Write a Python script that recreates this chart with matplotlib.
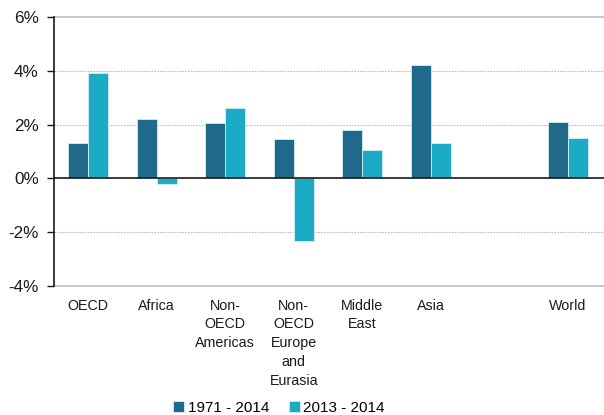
import matplotlib
matplotlib.use("Agg")
import matplotlib.pyplot as plt
import numpy as np

plt.rcParams['font.family'] = ['Liberation Sans', 'DejaVu Sans']

categories = ["OECD", "Africa", "Non-\nOECD\nAmericas", "Non-\nOECD\nEurope\nand\nEurasia",
              "Middle\nEast", "Asia", "", "World"]
series_names = ["1971 - 2014", "2013 - 2014"]
long_term = [1.3, 2.2, 2.05, 1.46, 1.81, 4.2, np.nan, 2.1]
recent = [3.93, -0.2, 2.6, -2.33, 1.05, 1.32, np.nan, 1.5]
yticks = [-4, -2, 0, 2, 4, 6]
ytick_labels = ["-4%", "-2%", "0%", "2%", "4%", "6%"]

dark = "#1F6A8A"
light = "#1BABC5"

fig = plt.figure(figsize=(6.04, 4.15), dpi=100)
ax = fig.add_axes([54/604, 1 - 286/415, 1 - 54/604, (286 - 17)/415])

x = np.arange(len(categories))
w = 0.29
ax.bar(x - w/2, long_term, w, color=dark, edgecolor="#D6EEF3", linewidth=0.6,
       label=series_names[0], zorder=3)
ax.bar(x + w/2, recent, w, color=light, edgecolor="#D6EEF3", linewidth=0.6,
       label=series_names[1], zorder=3)

ax.set_xlim(-0.5, len(categories) - 0.5 + 0.03)
ax.set_ylim(-4, 6)
ax.set_yticks(yticks)
ax.set_yticklabels(ytick_labels, fontsize=12.3, color="#1a1a1a")
ax.set_xticks(x)
ax.set_xticklabels(categories, fontsize=10.3, color="#1a1a1a", linespacing=1.45)
ax.tick_params(axis='x', length=0, pad=9)
ax.tick_params(axis='y', length=5, width=1, color="#1a1a1a", pad=6)

for v in [2, 4, -2]:
    ax.axhline(v, color="#BDBDBD", linewidth=0.8, linestyle=(0, (1.5, 1)), zorder=1)
for v in [6, -4]:
    ax.axhline(v, color="#BDBDBD", linewidth=1.2, zorder=1, clip_on=False)
ax.axhline(0, color="#1a1a1a", linewidth=1.2, zorder=4)

for s in ["top", "right", "bottom"]:
    ax.spines[s].set_visible(False)
ax.spines["left"].set_color("#1a1a1a")
ax.spines["left"].set_linewidth(1.2)

leg = fig.legend(loc="center", bbox_to_anchor=(279/604, 1 - 408/415), ncol=2,
                 frameon=False, fontsize=11, handlelength=0.7, handleheight=0.7,
                 handletextpad=0.25, columnspacing=1.3, borderaxespad=0)

fig.savefig("out.png", dpi=100)
